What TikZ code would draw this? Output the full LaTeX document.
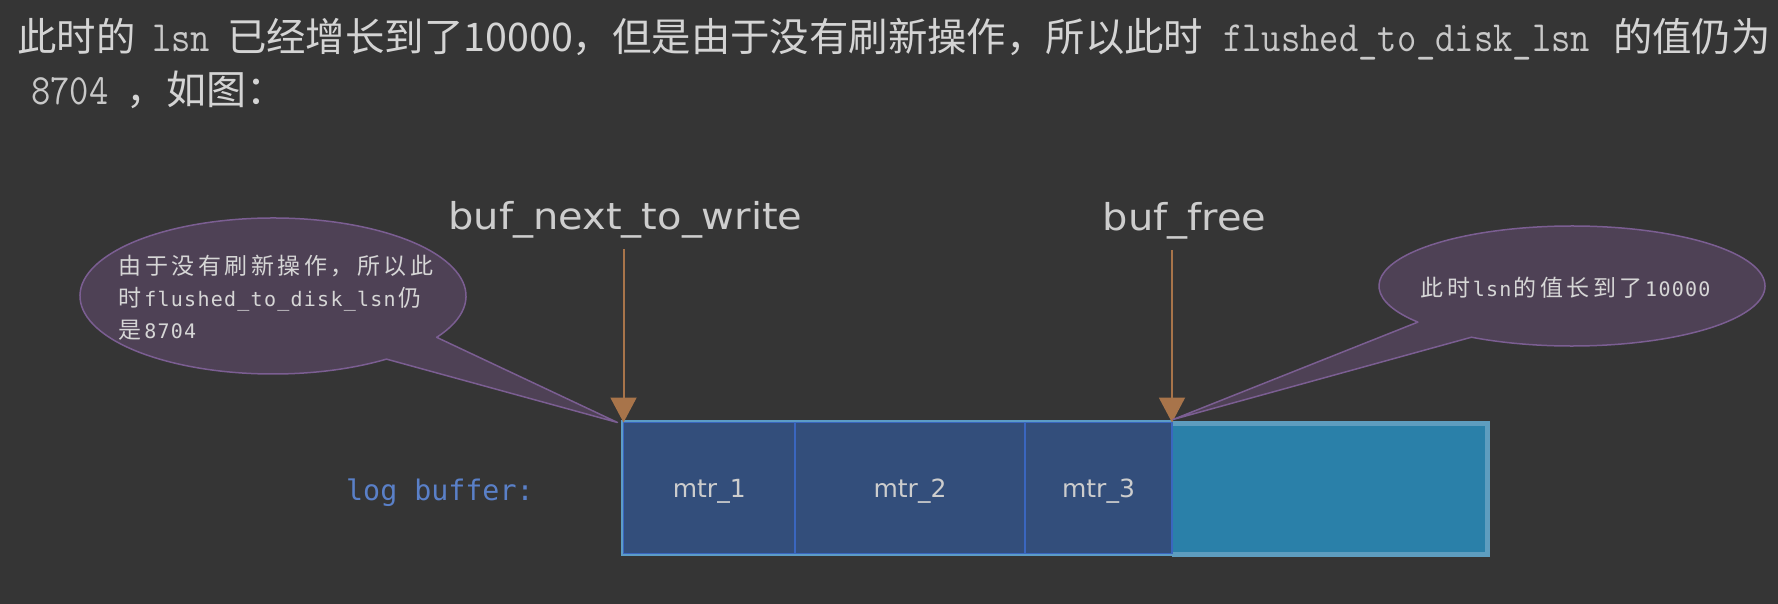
\documentclass[tikz,border=0pt]{standalone}
\usepackage{fontspec}
\usetikzlibrary{arrows.meta,calc}
\setmainfont{DejaVu Sans}
\setmonofont{Latin Modern Mono}
\newfontfamily\cjk{Noto Sans CJK SC}
\newfontfamily\dmon{DejaVu Sans Mono}
\newfontfamily\dsans{DejaVu Sans}
\definecolor{bg}{HTML}{353535}
\definecolor{titlefg}{HTML}{D4D4D4}
\definecolor{monofg}{HTML}{C8C8C8}
\definecolor{labelfg}{HTML}{CDCDCD}
\definecolor{bubtextc}{HTML}{D6D6D6}
\definecolor{arrowc}{HTML}{A8744A}
\definecolor{bubfill}{HTML}{4E4155}
\definecolor{bubline}{HTML}{7B5E92}
\definecolor{cellfill}{HTML}{334E7B}
\definecolor{cellline}{HTML}{3A66BF}
\definecolor{edgelight}{HTML}{5C9CC6}
\definecolor{freefill}{HTML}{2A80A9}
\definecolor{freeline}{HTML}{5E9DBF}
\definecolor{logc}{HTML}{5A80C8}
\newcommand\tcjk{\cjk\fontsize{39.4pt}{48pt}\selectfont}
\newcommand\tmono{\ttfamily\fontsize{37.5pt}{48pt}\selectfont}
\newcommand\tm[1]{{\tmono\color{monofg}\scalebox{1}[1.15]{#1}}}
\newcommand\bubcjk{\cjk\fontsize{23pt}{26pt}\selectfont}
\newcommand\bubmono{\dmon\fontsize{20pt}{26pt}\selectfont}
\makeatletter
\newcommand\cjspread[1]{\@tfor\my@tok:=#1\do{\makebox[26.5pt][c]{\bubcjk\my@tok}}}
\newcommand\lmspread[1]{\@tfor\my@tok:=#1\do{\makebox[13.3pt][c]{\bubmono\my@tok}}}
\makeatother
\begin{document}
\begin{tikzpicture}[x=1pt,y=-1pt,
  titletext/.style={anchor=base west, inner sep=0pt, text=titlefg},
  ptrlabel/.style={anchor=base, inner sep=0pt, text=labelfg, font=\dsans\fontsize{37pt}{40pt}\selectfont},
  arr/.style={draw=arrowc, line width=2pt, -{Triangle[width=26pt,length=25pt]}},
  bubble/.style={fill=bubfill, draw=bubline, line width=1.5pt, line join=round},
  bubtext/.style={anchor=base west, inner sep=0pt, text=bubtextc},
  cell/.style={anchor=north west, fill=cellfill, draw=cellline, line width=1.5pt,
    minimum height=131pt, inner sep=0pt, outer sep=0pt, text=labelfg,
    text height=18pt, text depth=-4pt, font=\dsans\fontsize{25pt}{30pt}\selectfont},
  freecell/.style={anchor=north west, fill=freefill, minimum width=318pt, minimum height=136pt, inner sep=0pt, outer sep=0pt},
  loglabel/.style={anchor=base west, inner sep=0pt, text=logc, font=\dmon\fontsize{28.3pt}{32pt}\selectfont}
]
\useasboundingbox (0,0) rectangle (1778,604);
\fill[bg] (0,0) rectangle (1778,604);

% title text
\node[titletext] (t1) at (17,52) {\tcjk\makebox[135pt][l]{此时的}\makebox[75pt][l]{\tm{lsn}}\makebox[996pt][l]{已经增长到了10000，但是由于没有刷新操作，所以此时}\makebox[390pt][l]{\tm{flushed\_to\_disk\_lsn}}的值仍为};
\node[titletext] (t2) at (31,105) {\makebox[95pt][l]{\tm{8704}}\cjk\fontsize{40pt}{48pt}\selectfont ，如图：};

% log buffer
\node[freecell] (fr) at (1172,420.5) {};
\draw[freeline, line width=5pt] ($(fr.north west)+(0,2.5)$) -- ($(fr.north east)+(-2.5,2.5)$) -- ($(fr.south east)+(-2.5,-2.5)$) -- ($(fr.south west)+(0,-2.5)$);
\node[cell, minimum width=171.5pt] (m1) at (623.5,422.5) {mtr\_1};
\node[cell, minimum width=230pt] (m2) at (m1.north east) {mtr\_2};
\node[cell, minimum width=147pt] (m3) at (m2.north east) {mtr\_3};
\draw[edgelight, line width=1.5pt] ($(m3.north east)+(0,-1.6)$) -- ($(m1.north west)+(-1.6,-1.6)$) -- ($(m1.south west)+(-1.6,1.6)$) -- ($(m3.south east)+(0,1.6)$);
\node[loglabel] (lb) at (346,500) {log buffer:};

% pointers
\node[ptrlabel] (bnw) at (625.5,230) {\scalebox{1.08}[1]{buf\_next\_to\_write}};
\node[ptrlabel] (bfr) at (1184.5,231) {\scalebox{1.08}[1]{buf\_free}};
\coordinate (a1s) at (623.5,249);
\coordinate (a2s) at (1172,250);
\draw[arr] (a1s) -- (m1.north west);
\draw[arr] (a2s) -- (m3.north east);

% left callout
\coordinate (lc) at (273,296);
\coordinate (ltip) at ($(m1.north west)+(-6,0)$);
\draw[bubble] ($(lc)+({193*cos(-32)},{-78*sin(-32)})$) arc[start angle=-32, end angle=306, x radius=193pt, y radius=78pt] -- (ltip) -- cycle;
\node[bubtext] (l1) at (117,274.5) {\cjspread{由于没有刷新操作，所以此}};
\node[bubtext] (l2) at (117,306) {\cjspread{时}\lmspread{flushed\_to\_disk\_lsn}\cjspread{仍}};
\node[bubtext] (l3) at (117,338) {\cjspread{是}\lmspread{8704}};

% right callout
\coordinate (rc) at (1572,286);
\coordinate (rtip) at ($(m3.north east)+(1,-3)$);
\draw[bubble] ($(rc)+({193*cos(-121.4)},{-60*sin(-121.4)})$) arc[start angle=-121.4, end angle=217, x radius=193pt, y radius=60pt] -- (rtip) -- cycle;
\node[bubtext] (r1) at (1419,296) {\cjspread{此时}\lmspread{lsn}\cjspread{的值长到了}\lmspread{10000}};
\end{tikzpicture}
\end{document}
